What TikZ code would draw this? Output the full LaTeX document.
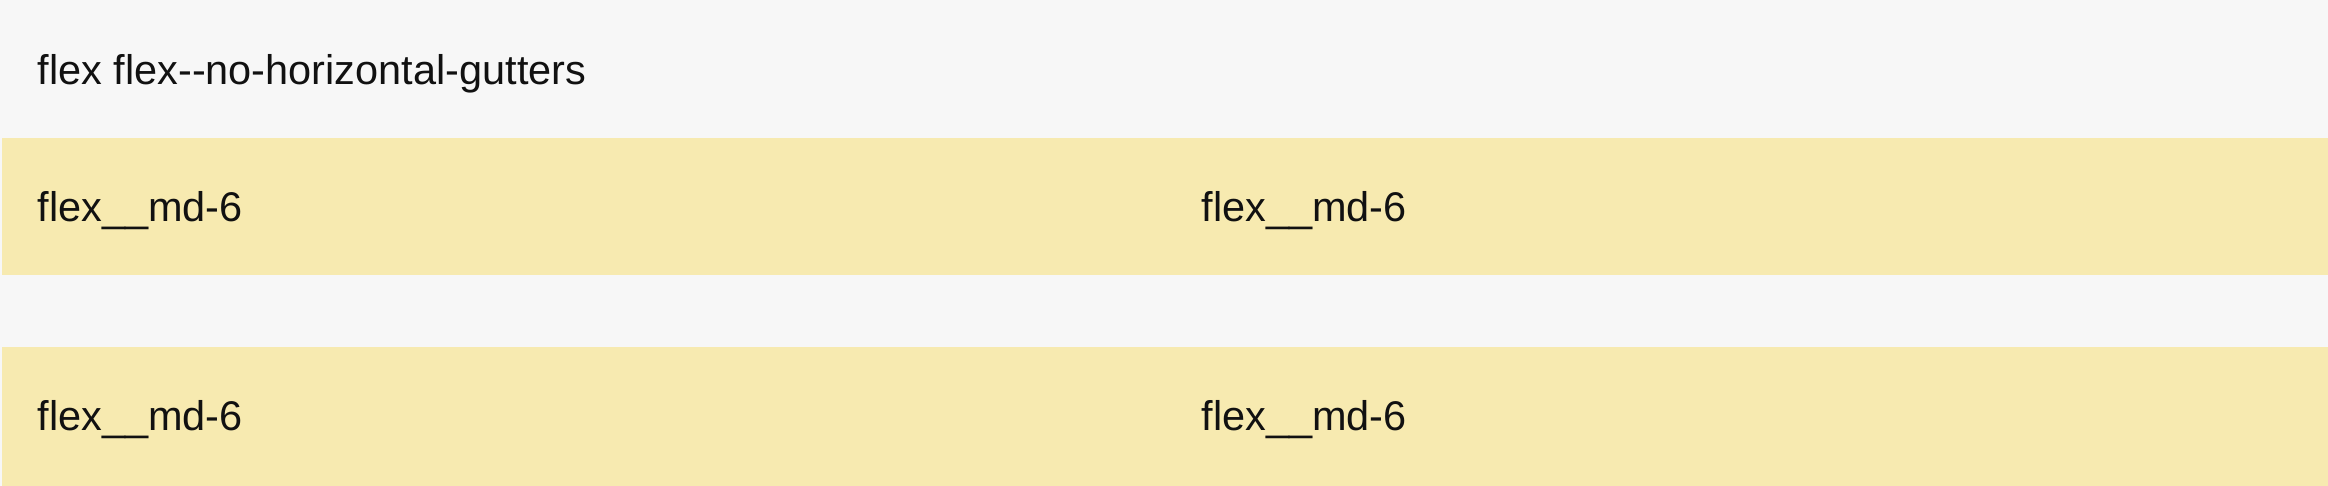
\documentclass[tikz,border=0pt]{standalone}
\usepackage{fontspec}
\setmainfont{Liberation Sans}
\usetikzlibrary{positioning}
\definecolor{pagegray}{HTML}{F7F7F7}
\definecolor{colyellow}{HTML}{F7EAB0}
\definecolor{inktext}{HTML}{111111}
\tikzset{
  celltext/.style={font=\fontsize{11.8pt}{14pt}\selectfont,text=inktext,anchor=base west,inner sep=0pt},
  rowband/.style={fill=colyellow,draw=none}
}

\begin{document}
\begin{tikzpicture}
\fill[pagegray] (0,0) rectangle (23.28,4.86);
\useasboundingbox (0,0) rectangle (23.28,4.86);
\fill[rowband] (0.02,2.11) rectangle (23.28,3.48);
\fill[rowband] (0.02,0) rectangle (23.28,1.39);

\node[celltext] (title) at (0.37,4.01) {flex flex-{}-no-horizontal-gutters};

\node[celltext] (cellA) at (0.37,2.64) {flex\_\_md-6};
\node[celltext] (cellB) at (12.01,2.64) {flex\_\_md-6};
\node[celltext] (cellC) at (0.37,0.55) {flex\_\_md-6};
\node[celltext] (cellD) at (12.01,0.55) {flex\_\_md-6};

\end{tikzpicture}
\end{document}
